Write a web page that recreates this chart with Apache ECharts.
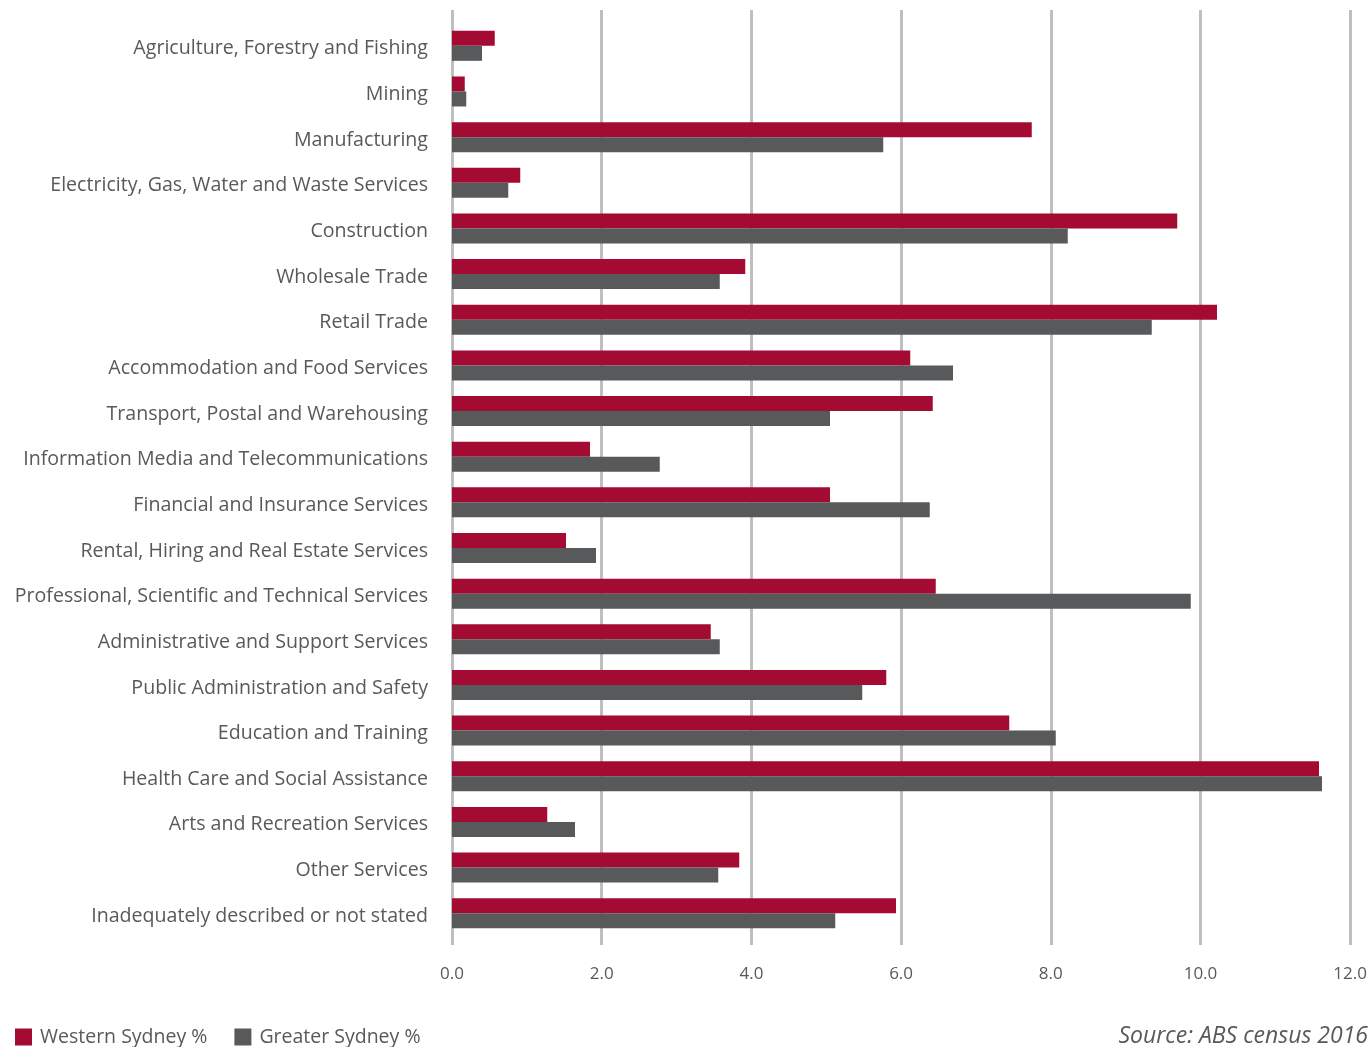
<!DOCTYPE html>
<html>
<head>
<meta charset="utf-8">
<script src="https://cdn.jsdelivr.net/npm/echarts@6/dist/echarts.min.js"></script>
<style>
  html, body { margin: 0; padding: 0; background: #fff; }
  #chart { width: 1370px; height: 1047px; }
</style>
</head>
<body>
<div id="chart"></div>
<script>
/* global echarts */
const industries = [
    'Agriculture, Forestry and Fishing',
    'Mining',
    'Manufacturing',
    'Electricity, Gas, Water and Waste Services',
    'Construction',
    'Wholesale Trade',
    'Retail Trade',
    'Accommodation and Food Services',
    'Transport, Postal and Warehousing',
    'Information Media and Telecommunications',
    'Financial and Insurance Services',
    'Rental, Hiring and Real Estate Services',
    'Professional, Scientific and Technical Services',
    'Administrative and Support Services',
    'Public Administration and Safety',
    'Education and Training',
    'Health Care and Social Assistance',
    'Arts and Recreation Services',
    'Other Services',
    'Inadequately described or not stated'
];
const western_sydney = [0.57, 0.17, 7.73, 0.91, 9.67, 3.91, 10.2, 6.11, 6.41, 1.84, 5.04, 1.52, 6.45, 3.45, 5.79, 7.43, 11.56, 1.27, 3.83, 5.92];
const greater_sydney = [0.40, 0.19, 5.75, 0.75, 8.21, 3.57, 9.33, 6.68, 5.04, 2.77, 6.37, 1.92, 9.85, 3.57, 5.47, 8.05, 11.6, 1.64, 3.55, 5.11];
const series_names = ['Western Sydney %', 'Greater Sydney %'];
const source_text = 'Source: ABS census 2016';

const text_color = '#595959';
const grid_color = '#BFBFBF';
const font = 'Open Sans';

const chart = echarts.init(document.getElementById('chart'));

const option = {
    backgroundColor: '#fff',
    textStyle: { fontFamily: font },
    legend: {
        data: series_names,
        left: 10,
        top: 1022,
        itemWidth: 17,
        itemHeight: 17,
        itemGap: 27,
        icon: 'rect',
        textStyle: { color: text_color, fontSize: 19.5, fontFamily: font, padding: [0, 0, 0, 3] }
    },
    // grid 0 only draws the value gridlines and labels; grid 1 holds the bars
    grid: [
        { left: 452, right: 18, top: 10, bottom: 102 },
        { left: 452, right: 18, top: 23, bottom: 111 }
    ],
    xAxis: [
        {
            gridIndex: 0,
            type: 'value',
            min: 0,
            max: 12,
            interval: 2,
            axisLine: { show: false },
            axisTick: { show: false },
            axisLabel: {
                color: text_color,
                fontSize: 17,
                margin: 21,
                formatter: v => v.toFixed(1)
            },
            splitLine: { lineStyle: { color: grid_color, width: 3 } }
        },
        {
            gridIndex: 1,
            type: 'value',
            min: 0,
            max: 12,
            interval: 2,
            show: false
        }
    ],
    yAxis: [
        {
            gridIndex: 0,
            type: 'category',
            data: [''],
            show: false
        },
        {
            gridIndex: 1,
            type: 'category',
            data: industries,
            inverse: true,
            axisLine: { show: false },
            axisTick: { show: false },
            axisLabel: {
                color: text_color,
                margin: 24,
                formatter: v => `{t|${v}}`,
                rich: { t: { fontSize: 19.6, color: text_color, fontFamily: font, padding: [6, 0, 0, 0] } }
            }
        }
    ],
    series: [
        {
            name: series_names[0],
            type: 'bar',
            xAxisIndex: 1,
            yAxisIndex: 1,
            data: western_sydney,
            itemStyle: { color: '#A30B32' },
            barWidth: 15,
            barGap: '0%'
        },
        {
            name: series_names[1],
            type: 'bar',
            xAxisIndex: 1,
            yAxisIndex: 1,
            data: greater_sydney,
            itemStyle: { color: '#58595B' },
            barWidth: 15,
            barGap: '0%'
        }
    ],
    graphic: [
        {
            type: 'text',
            right: 2,
            top: 1025,
            style: {
                text: source_text,
                fill: text_color,
                fontSize: 23,
                fontStyle: 'italic',
                fontFamily: font
            }
        }
    ]
};

chart.setOption(option);
</script>
</body>
</html>
